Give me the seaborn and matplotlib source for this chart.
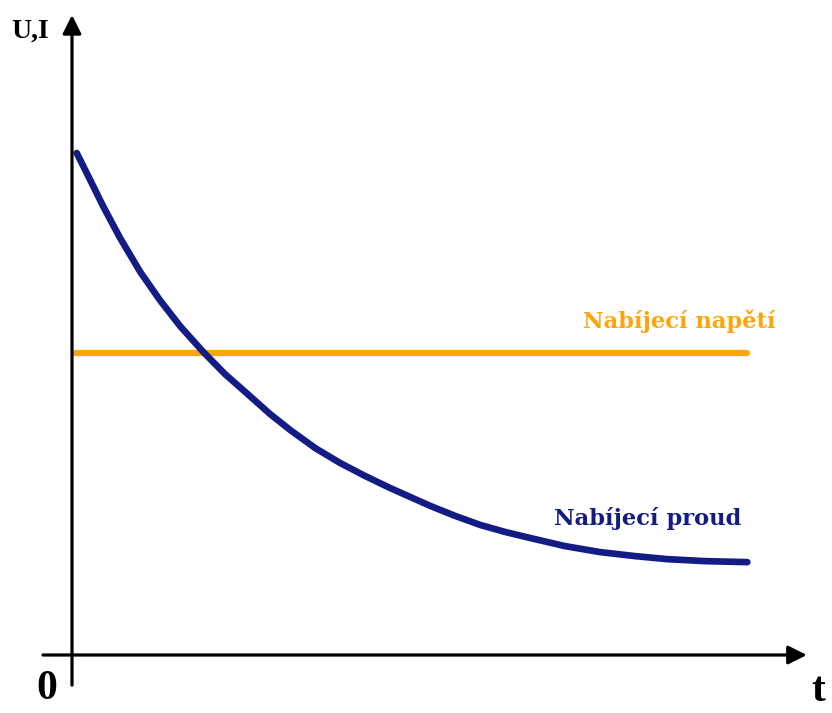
import matplotlib
matplotlib.use("Agg")
import matplotlib.pyplot as plt
import seaborn as sns
import pandas as pd

# values (time t, current I), arbitrary units
t_proud = [0.07, 0.27, 0.46, 0.71, 1.01, 1.30, 1.60, 1.94, 2.26, 2.63,
           2.93, 3.23, 3.60, 3.96, 4.33, 4.70, 5.00, 5.30, 5.67, 6.04,
           6.41, 6.78, 7.29, 7.81, 8.33, 8.80, 9.36, 9.99]
i_proud = [10.00, 9.46, 8.94, 8.31, 7.63, 7.07, 6.55, 6.04, 5.60, 5.16,
           4.80, 4.48, 4.12, 3.83, 3.57, 3.33, 3.15, 2.97, 2.77, 2.59,
           2.45, 2.33, 2.17, 2.05, 1.97, 1.91, 1.87, 1.85]

t_napeti = [0.05, 9.99]
u_napeti = [6.02, 6.02]

blue = "#131b85"
orange = "#ffa50a"

sns.set_style("white")
plt.rcParams['font.family'] = ['Liberation Serif', 'DejaVu Serif']

fig = plt.figure(figsize=(8.32, 7.13), dpi=100)
ax = fig.add_axes([0, 0, 1, 1])
ax.set_xlim(-72 / 67.6, (832 - 72) / 67.6)
ax.set_ylim(-(713 - 655) / 50.2, 655 / 50.2)
ax.axis("off")

df_i = pd.DataFrame({"t": t_proud, "I": i_proud})
df_u = pd.DataFrame({"t": t_napeti, "U": u_napeti})

sns.lineplot(data=df_u, x="t", y="U", ax=ax, color=orange, lw=4.5,
             solid_capstyle="round", zorder=3)
sns.lineplot(data=df_i, x="t", y="I", ax=ax, color=blue, lw=4.8,
             solid_capstyle="round", solid_joinstyle="round", zorder=4)

# axes with arrows
arrow = dict(arrowstyle="-|>", lw=2.3, color="black", mutation_scale=28,
             shrinkA=0, shrinkB=0)
ax.annotate("", xy=(0, 12.75), xytext=(0, -0.6), arrowprops=arrow, zorder=5)
ax.annotate("", xy=(10.87, 0), xytext=(-0.43, 0), arrowprops=arrow, zorder=5)

lab = dict(fontweight="bold", ha="center", va="baseline",
           family=["DejaVu Serif"], fontsize=16.3)
ax.text(8.99, 6.51, "Nabíjecí napětí", color=orange, **lab)
ax.text(8.52, 2.59, "Nabíjecí proud", color=blue, **lab)

bold = dict(fontweight="bold", ha="center", va="center")
ax.text(-0.62, 12.42, "U,I", color="black", fontsize=20, **bold)
ax.text(-0.37, -0.68, "0", color="black", fontsize=30, **bold)
ax.text(11.04, -1.10, "t", color="black", fontsize=30, fontweight="bold",
        ha="center", va="bottom")

fig.savefig("out.png", dpi=100)
